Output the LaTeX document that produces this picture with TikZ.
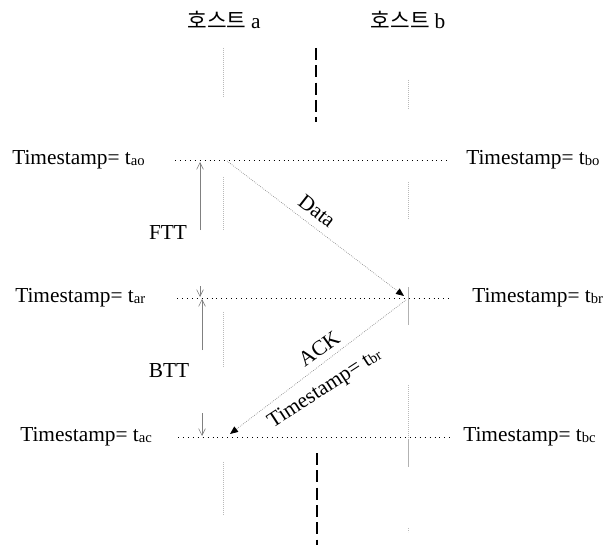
\documentclass[tikz,border=0pt]{standalone}
\usepackage{fontspec}
\setmainfont{Liberation Serif}
\newfontfamily\krfont{Noto Sans CJK KR}
\usetikzlibrary{arrows.meta}
\newcommand\ssub[1]{\raisebox{-0.6pt}{\fontsize{11}{11}\selectfont #1}}
\begin{document}
\begin{tikzpicture}[x=0.75pt,y=-0.75pt,
  lbl/.style={font=\fontsize{16}{18}\selectfont, inner sep=0pt},
  host/.style={font=\fontsize{16}{18}\selectfont, inner sep=0pt},
  hline/.style={black, line width=0.6pt, dash pattern=on 0.7pt off 3pt},
  life/.style={gray!55, line width=0.5pt, densely dotted},
  lifesolid/.style={gray!60, line width=0.5pt},
  mid/.style={black, line width=1.3pt, dash pattern=on 9pt off 4pt},
  msg/.style={gray, line width=0.5pt, densely dotted, -{Triangle[length=6pt,width=5pt,fill=black,color=black]}},
  dim/.style={gray, line width=0.5pt, -{Straight Barb[length=5pt,width=5pt]}}]
\useasboundingbox (0,0) rectangle (613,545);

% host titles
\node[host] (ha) at (224,20) {\krfont 호스트 \rmfamily a};
\node[host] (hb) at (408,20) {\krfont 호스트 \rmfamily b};

% lifelines host a
\draw[life] (223,48) -- (223,97);
\draw[life] (223,177) -- (223,230);
\draw[life] (223,312) -- (223,368);
\draw[life] (223,462) -- (223,515);
% lifelines host b
\draw[life] (408,80) -- (408,110);
\draw[life] (408,182) -- (408,220);
\draw[lifesolid] (408,287) -- (408,325);
\draw[life] (408,385) -- (408,440);
\draw[lifesolid] (408,440) -- (408,467);
\draw[life] (408,528) -- (408,532);

% middle dashed line
\draw[mid] (316,48) -- (316,122);
\draw[mid] (317,453) -- (317,545);

% timestamp labels
\node[lbl, anchor=west] (tao) at (12,160) {Timestamp= t\ssub{ao}};
\node[lbl, anchor=west] (tbo) at (466,160) {Timestamp= t\ssub{bo}};
\node[lbl, anchor=west] (tar) at (15,298) {Timestamp= t\ssub{ar}};
\node[lbl, anchor=west] (tbr) at (472,298) {Timestamp= t\ssub{br}};
\node[lbl, anchor=west] (tac) at (20,437) {Timestamp= t\ssub{ac}};
\node[lbl, anchor=west] (tbc) at (463,437) {Timestamp= t\ssub{bc}};

% horizontal dotted time lines
\coordinate (l1a) at (175,160); \coordinate (l1b) at (447,160);
\coordinate (l2a) at (177,298); \coordinate (l2b) at (453,298);
\coordinate (l3a) at (178,437); \coordinate (l3b) at (453,437);
\draw[hline] (l1a) -- (l1b);
\draw[hline] (l2a) -- (l2b);
\draw[hline] (l3a) -- (l3b);

% messages
\coordinate (ds) at (227,161); \coordinate (de) at (404,296);
\coordinate (as) at (406,300); \coordinate (ae) at (230,434);
\draw[msg] (ds) -- (de);
\draw[msg] (as) -- (ae);
\node[lbl, rotate=-38] (data) at (317,211) {Data};
\node[lbl, rotate=36] (ack) at (319,349) {ACK};
\node[lbl, rotate=33] (ackts) at (325,389) {Timestamp= t\ssub{br}};

% FTT / BTT dimensions
\coordinate (f1) at (200,230); \coordinate (f2) at (200,162);
\coordinate (f3) at (200,286); \coordinate (f4) at (200,297);
\draw[dim] (f1) -- (f2);
\draw[dim] (f3) -- (f4);
\node[lbl] (ftt) at (168,233) {FTT};
\coordinate (b1) at (202,350); \coordinate (b2) at (202,299);
\coordinate (b3) at (202,413); \coordinate (b4) at (202,436);
\draw[dim] (b1) -- (b2);
\draw[dim] (b3) -- (b4);
\node[lbl] (btt) at (169,371) {BTT};
\end{tikzpicture}
\end{document}
